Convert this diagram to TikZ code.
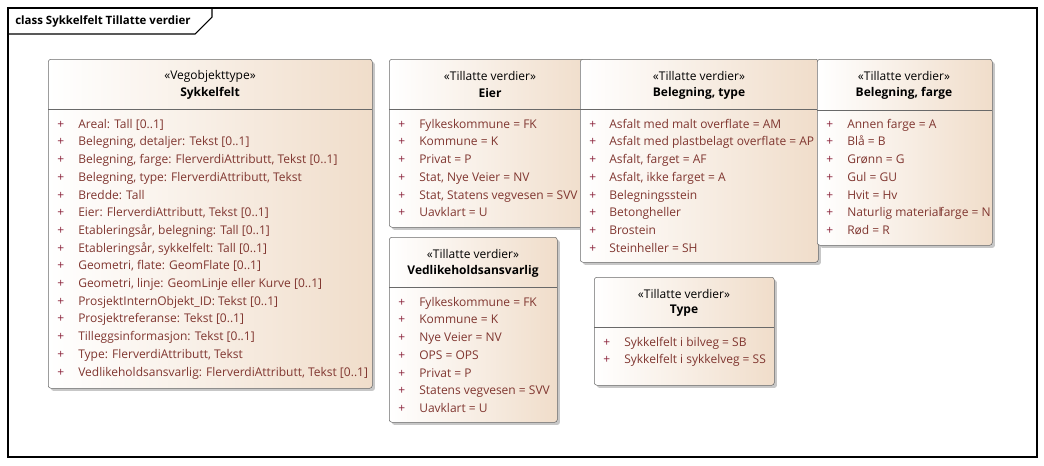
\documentclass[tikz,border=0pt]{standalone}
\usepackage{fontspec}
\setmainfont{Open Sans}
\usetikzlibrary{shadows}
\usepackage{xcolor}
\definecolor{classTan}{RGB}{240, 221, 202}
\definecolor{classLine}{RGB}{105, 105, 105}
\definecolor{attrBrown}{RGB}{128, 54, 48}
\definecolor{plusRed}{RGB}{140, 36, 60}

\begin{document}
\begin{tikzpicture}
    [
		x=0.75pt, y=-0.75pt,
		every node/.style={font=\fontsize{9}{11}\selectfont},
		classbox/.style={
			draw=classLine, rounded corners=2pt, anchor=north west, inner sep=0pt,
			left color=white, right color=classTan,
			drop shadow={shadow xshift=2pt, shadow yshift=-2pt, fill=black!22, opacity=1}
		},
		sep/.style={draw=classLine},
		stereo/.style={inner sep=0pt},
		title/.style={inner sep=0pt, font=\fontsize{9}{11}\selectfont\bfseries},
		plus/.style={anchor=west, inner sep=0pt, text=plusRed, text height=1.6ex, text depth=0.4ex},
		attr/.style={anchor=west, inner sep=0pt, text=attrBrown, text height=1.6ex, text depth=0.4ex}
	]

\useasboundingbox (0,0) rectangle (1044,465);

% Frame
\draw [black, line width=0.8pt] (8,8) rectangle (1037,457);
\draw [black, line width=0.8pt] (8,34) -- (195,34) -- (212,17) -- (212,8);
\node (frametitle) [anchor=west, inner sep=0pt, font=\fontsize{8.6}{11}\selectfont\bfseries] at (15,21)
	{class Sykkelfelt Tillatte verdier};

% Sykkelfelt
\node (sykkelfelt) [classbox, minimum width=324*0.75pt, minimum height=329*0.75pt] at (48,59) {};
\draw [sep] (48,109) -- (372,109);
\node (sykkelfeltS) [stereo] at (210,76) {«Vegobjekttype»};
\node (sykkelfeltT) [title] at (210,93) {Sykkelfelt};
\foreach \t [count=\i from 0] in {
	{Areal: Tall [0..1]},
	{Belegning, detaljer: Tekst [0..1]},
	{Belegning, farge: FlerverdiAttributt, Tekst [0..1]},
	{Belegning, type: FlerverdiAttributt, Tekst},
	{Bredde: Tall},
	{Eier: FlerverdiAttributt, Tekst [0..1]},
	{Etableringsår, belegning: Tall [0..1]},
	{Etableringsår, sykkelfelt: Tall [0..1]},
	{Geometri, flate: GeomFlate [0..1]},
	{Geometri, linje: GeomLinje eller Kurve [0..1]},
	{ProsjektInternObjekt\_ID: Tekst [0..1]},
	{Prosjektreferanse: Tekst [0..1]},
	{Tilleggsinformasjon: Tekst [0..1]},
	{Type: FlerverdiAttributt, Tekst},
	{Vedlikeholdsansvarlig: FlerverdiAttributt, Tekst [0..1]}}
{
	\node (sykkelfeltP\i) [plus] at (57,124+17.7*\i) {+};
	\node (sykkelfeltA\i) [attr] at (78,124+17.7*\i) {\t};
}

% Eier
\node (eier) [classbox, minimum width=202*0.75pt, minimum height=168*0.75pt] at (389,59) {};
\draw [sep] (389,109) -- (591,109);
\node (eierS) [stereo] at (490,76) {«Tillatte verdier»};
\node (eierT) [title] at (490,93) {Eier};
\foreach \t [count=\i from 0] in {
	{Fylkeskommune = FK},
	{Kommune = K},
	{Privat = P},
	{Stat, Nye Veier = NV},
	{Stat, Statens vegvesen = SVV},
	{Uavklart = U}}
{
	\node (eierP\i) [plus] at (398,124+17.7*\i) {+};
	\node (eierA\i) [attr] at (419,124+17.7*\i) {\t};
}

% Vedlikeholdsansvarlig
\node (vedlikehold) [classbox, minimum width=168*0.75pt, minimum height=185*0.75pt] at (389,237) {};
\draw [sep] (389,287) -- (557,287);
\node (vedlikeholdS) [stereo] at (473,254) {«Tillatte verdier»};
\node (vedlikeholdT) [title] at (473,271) {Vedlikeholdsansvarlig};
\foreach \t [count=\i from 0] in {
	{Fylkeskommune = FK},
	{Kommune = K},
	{Nye Veier = NV},
	{OPS = OPS},
	{Privat = P},
	{Statens vegvesen = SVV},
	{Uavklart = U}}
{
	\node (vedlikeholdP\i) [plus] at (398,302+17.7*\i) {+};
	\node (vedlikeholdA\i) [attr] at (419,302+17.7*\i) {\t};
}

% Belegning, type
\node (belType) [classbox, minimum width=238*0.75pt, minimum height=203*0.75pt] at (580,59) {};
\draw [sep] (580,109) -- (818,109);
\node (belTypeS) [stereo] at (699,76) {«Tillatte verdier»};
\node (belTypeT) [title] at (699,93) {Belegning, type};
\foreach \t [count=\i from 0] in {
	{Asfalt med malt overflate = AM},
	{Asfalt med plastbelagt overflate = AP},
	{Asfalt, farget = AF},
	{Asfalt, ikke farget = A},
	{Belegningsstein},
	{Betongheller},
	{Brostein},
	{Steinheller = SH}}
{
	\node (belTypeP\i) [plus] at (589,124+17.7*\i) {+};
	\node (belTypeA\i) [attr] at (609,124+17.7*\i) {\t};
}

% Belegning, farge
\node (belFarge) [classbox, minimum width=175*0.75pt, minimum height=186*0.75pt] at (817,59) {};
\draw [sep] (817,110) -- (992,110);
\node (belFargeS) [stereo] at (904,76) {«Tillatte verdier»};
\node (belFargeT) [title] at (904,93) {Belegning, farge};
\foreach \t [count=\i from 0] in {
	{Annen farge = A},
	{Blå = B},
	{Grønn = G},
	{Gul = GU},
	{Hvit = Hv},
	{Naturlig material\kern-1.5pt farge = N},
	{Rød = R}}
{
	\node (belFargeP\i) [plus] at (826,124+17.7*\i) {+};
	\node (belFargeA\i) [attr] at (847,124+17.7*\i) {\t};
}

% Type
\node (type) [classbox, minimum width=180*0.75pt, minimum height=108*0.75pt] at (594,277) {};
\draw [sep] (594,327) -- (774,327);
\node (typeS) [stereo] at (684,294) {«Tillatte verdier»};
\node (typeT) [title] at (684,311) {Type};
\foreach \t [count=\i from 0] in {
	{Sykkelfelt i bilveg = SB},
	{Sykkelfelt i sykkelveg = SS}}
{
	\node (typeP\i) [plus] at (603,342+17.7*\i) {+};
	\node (typeA\i) [attr] at (624,342+17.7*\i) {\t};
}

\end{tikzpicture}
\end{document}
